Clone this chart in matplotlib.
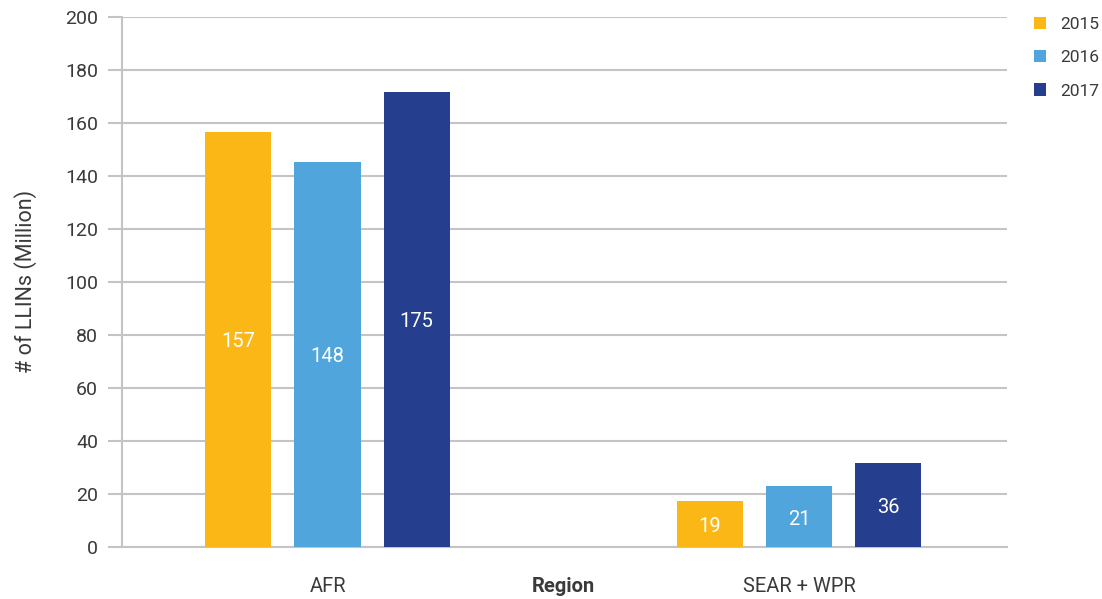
import matplotlib.pyplot as plt
import numpy as np

# Datos
regions = ["AFR", "SEAR + WPR"]
years = ["2015", "2016", "2017"]
# altura de las barras (tal como se dibujan)
llins_2015 = [156.5, 17.2]
llins_2016 = [145.2, 22.8]
llins_2017 = [171.6, 31.6]
# valores impresos dentro de las barras
labels_2015 = [157, 19]
labels_2016 = [148, 21]
labels_2017 = [175, 36]
y_ticks = [0, 20, 40, 60, 80, 100, 120, 140, 160, 180, 200]

colors = ["#FBB715", "#50A5DC", "#253F8E"]
grid_color = "#C4C4C6"
text_color = "#3A3A3A"

plt.rcParams["font.family"] = ["Roboto", "DejaVu Sans"]

fig = plt.figure(figsize=(11.02, 5.99), dpi=100)
ax = fig.add_axes([0.1104, 0.0873, 0.9138 - 0.1104, 0.9721 - 0.0873])

x = np.arange(len(regions))
width = 0.14
offset = 0.1888

series = [llins_2015, llins_2016, llins_2017]
labels = [labels_2015, labels_2016, labels_2017]
for i, (vals, labs) in enumerate(zip(series, labels)):
    pos = x + (i - 1) * offset
    bars = ax.bar(pos, vals, width, color=colors[i], label=years[i], zorder=3)
    for rect, lab in zip(bars, labs):
        ax.text(rect.get_x() + rect.get_width() / 2, rect.get_height() / 2 - 1,
                str(lab), ha="center", va="center", color="white",
                fontsize=14.5, zorder=4)

ax.set_xlim(-0.4365, 1.441)
ax.set_ylim(0, 200)
ax.set_yticks(y_ticks)
ax.yaxis.grid(True, color=grid_color, linewidth=1.5, zorder=0)
ax.set_axisbelow(True)

for side in ["top", "right"]:
    ax.spines[side].set_visible(False)
ax.spines["left"].set_color(grid_color)
ax.spines["left"].set_linewidth(1.5)
ax.spines["bottom"].set_color(grid_color)
ax.spines["bottom"].set_linewidth(1.5)

ax.tick_params(axis="y", length=10, width=1.5, color=grid_color,
               labelsize=14, labelcolor=text_color, pad=7)
ax.set_xticks([0, 0.5, 1])
ax.set_xticklabels(["AFR", "Region", "SEAR + WPR"])
ax.tick_params(axis="x", length=0, labelsize=14.5, labelcolor=text_color, pad=22)
ax.get_xticklabels()[1].set_fontweight("bold")

ax.set_ylabel("# of LLINs (Million)", fontsize=15.5, color=text_color, labelpad=20)

fig.legend(loc="upper left", bbox_to_anchor=(1018 / 1102, 1 - 1 / 599),
           frameon=False, fontsize=12.5, handlelength=0.7, handleheight=0.7,
           handletextpad=0.85, labelspacing=1.05, labelcolor=text_color)

fig.savefig("out.png", dpi=100)
plt.close(fig)
